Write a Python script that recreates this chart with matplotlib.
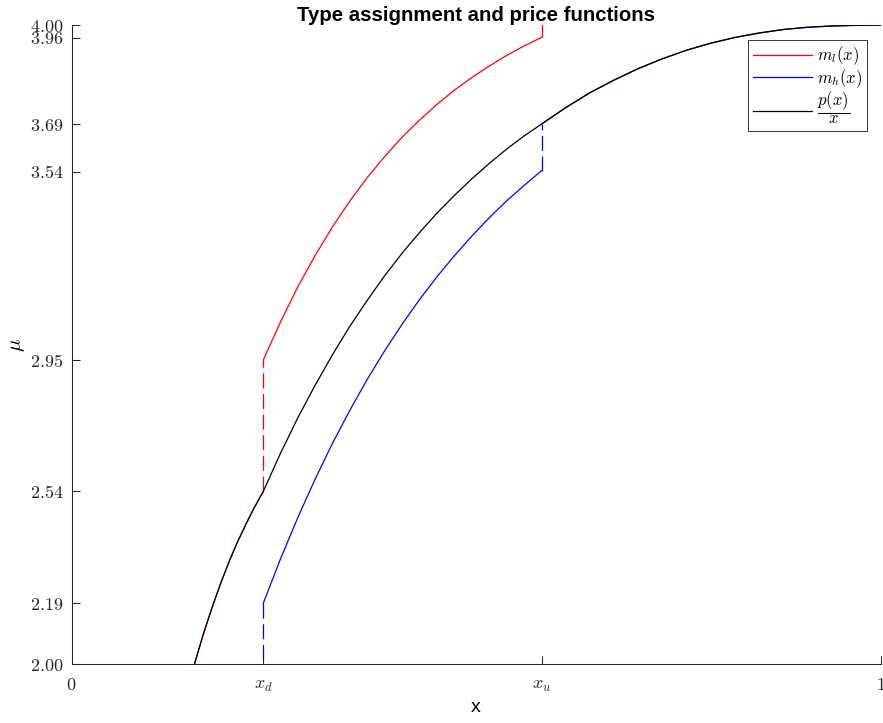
import numpy as np
import matplotlib
matplotlib.use('Agg')
import matplotlib.pyplot as plt

plt.rcParams['mathtext.fontset'] = 'cm'
plt.rcParams['font.family'] = ['Liberation Sans', 'DejaVu Sans']

# Threshold points on the x axis
x_d = 0.237
x_u = 0.581

# p(x)/x
p_x = [0.152, 0.163, 0.174, 0.184, 0.195, 0.205, 0.216, 0.226, 0.237,
       0.258, 0.280, 0.301, 0.323, 0.344, 0.366, 0.387, 0.409, 0.430,
       0.452, 0.473, 0.495, 0.516, 0.538, 0.559, 0.581,
       0.610, 0.640, 0.670, 0.700, 0.730, 0.760, 0.790, 0.820, 0.850,
       0.880, 0.910, 0.940, 0.970, 1.000]
p_y = [2.000, 2.094, 2.179, 2.250, 2.322, 2.381, 2.440, 2.490, 2.540,
       2.658, 2.772, 2.872, 2.970, 3.057, 3.140, 3.215, 3.287, 3.350,
       3.412, 3.466, 3.519, 3.566, 3.612, 3.652, 3.690,
       3.740, 3.787, 3.827, 3.863, 3.894, 3.921, 3.943, 3.961, 3.975,
       3.986, 3.993, 3.997, 3.999, 4.000]

# m_l(x) and m_h(x) between x_d and x_u
m_x = [0.237, 0.258, 0.280, 0.301, 0.323, 0.344, 0.366, 0.387, 0.409,
       0.430, 0.452, 0.473, 0.495, 0.516, 0.538, 0.559, 0.581]
ml_y = [2.951, 3.069, 3.182, 3.278, 3.370, 3.449, 3.524, 3.588, 3.650,
        3.702, 3.752, 3.796, 3.836, 3.871, 3.905, 3.934, 3.961]
mh_y = [2.190, 2.327, 2.460, 2.578, 2.693, 2.794, 2.893, 2.980, 3.065,
        3.140, 3.213, 3.277, 3.340, 3.396, 3.450, 3.497, 3.544]

y_ticks = [2.00, 2.19, 2.54, 2.95, 3.54, 3.69, 3.96, 4.00]
x_ticks = [0, x_d, x_u, 1]
x_labels = ['$0$', '$x_d$', '$x_u$', '$1$']

p_x = np.array(p_x)
p_y = np.array(p_y)
low = p_x <= x_d
high = p_x >= x_u

fig = plt.figure(figsize=(8.83, 7.23), dpi=100)
ax = fig.add_axes([0.081, 0.0816, 0.9162, 0.8838])

lw = 0.9
dash = (0, (12, 4.5))

# m_l: follows p/x below x_d, jumps at x_d and x_u
ax.plot(p_x[low], p_y[low], color='red', lw=lw)
ax.plot([x_d, x_d], [p_y[low][-1], ml_y[0]], color='red', lw=lw, linestyle=dash)
l1, = ax.plot(m_x, ml_y, color='red', lw=lw)
ax.plot([x_u, x_u], [ml_y[-1], 4.05], color='red', lw=lw, linestyle=dash)

# m_h: jumps at x_d and x_u, then follows p/x
ax.plot([x_d, x_d], [1.95, mh_y[0]], color='blue', lw=lw, linestyle=dash)
l2, = ax.plot(m_x, mh_y, color='blue', lw=lw)
ax.plot([x_u, x_u], [mh_y[-1], p_y[high][0]], color='blue', lw=lw, linestyle=dash)
ax.plot(p_x[high], p_y[high], color='blue', lw=lw)

# p(x)/x
l3, = ax.plot(p_x, p_y, color='black', lw=lw)

ax.set_xlim(0, 1)
ax.set_ylim(2, 4)
ax.set_yticks(y_ticks)
ax.set_yticklabels(['$%.2f$' % v for v in y_ticks])
ax.set_xticks(x_ticks)
ax.set_xticklabels(x_labels)
ax.tick_params(direction='in', length=6, width=0.75, colors='#262626',
               labelsize=13)
ax.tick_params(axis='y', pad=6)
ax.tick_params(axis='x', pad=9)

for s in ['top', 'right']:
    ax.spines[s].set_visible(False)
for s in ['left', 'bottom']:
    ax.spines[s].set_linewidth(0.75)
    ax.spines[s].set_color('#262626')

ax.set_title('Type assignment and price functions', fontsize=14.7,
             fontweight='bold', pad=-4)
ax.set_xlabel('x', fontsize=14, labelpad=4)
ax.set_ylabel(r'$\mu$', fontsize=15, labelpad=2)

leg = ax.legend([l1, l2, l3], ['$m_l(x)$', '$m_h(x)$', r'$\dfrac{p(x)}{x}$'],
                loc='upper right', bbox_to_anchor=(0.983, 0.977),
                borderaxespad=0, fontsize=12, handlelength=3.5,
                handletextpad=0.3, fancybox=False, framealpha=1,
                edgecolor='#404040', borderpad=0.3, labelspacing=0.0)
leg.get_frame().set_linewidth(0.75)

fig.savefig('out.png', dpi=100)
